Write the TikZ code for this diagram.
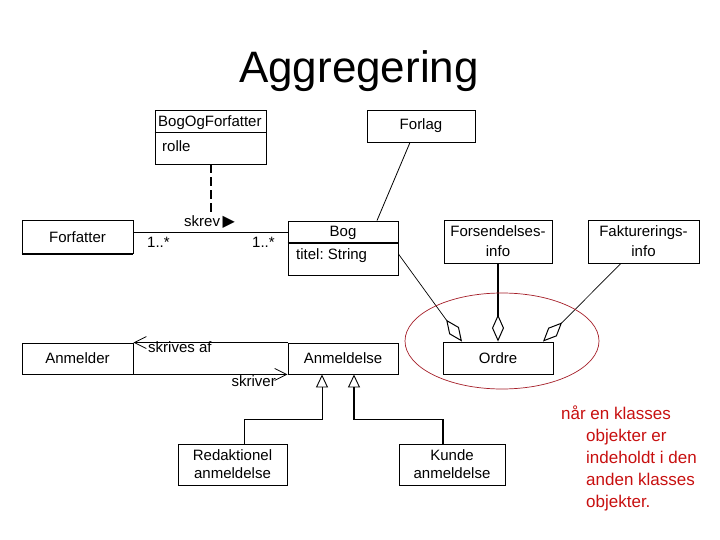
\documentclass[tikz,border=0pt]{standalone}
\usepackage{fontspec}
\setmainfont{Liberation Sans}
\newfontfamily\dejavu{DejaVu Sans}
\usetikzlibrary{arrows.meta}
\definecolor{notered}{RGB}{200,16,16}
\definecolor{ellred}{RGB}{165,30,40}
\tikzset{mybarb/.tip={Straight Barb[length=12pt, width=12pt, line width=0.8pt]}}
\frenchspacing
\begin{document}
\begin{tikzpicture}[x=1pt,y=-1pt,
  box/.style={draw=black, line width=0.9pt, inner sep=0pt, align=center,
    font=\fontsize{15}{20}\selectfont},
  txt/.style={inner sep=0pt, font=\fontsize{15}{20}\selectfont},
  lbl/.style={inner sep=0pt, font=\fontsize{15}{18}\selectfont},
  plain/.style={draw=black, line width=0.8pt},
  divider/.style={draw=black, line width=0.9pt},
  dashline/.style={draw=black, line width=2pt, dash pattern=on 9pt off 4pt},
  agg/.style={draw=black, line width=0.7pt,
    -{Diamond[open, length=27pt, width=12pt, line width=1pt]}},
  gen/.style={draw=black, line width=0.9pt,
    -{Triangle[open, length=13pt, width=12pt, line width=0.9pt]}},
  note/.style={inner sep=0pt, text=notered, align=left,
    font=\fontsize{17}{22}\selectfont},
  ring/.style={draw=ellred, line width=0.7pt}
]
\fill[white] (0,0) rectangle (720,540);
\useasboundingbox (0,0) rectangle (720,540);

% title
\node[inner sep=0pt, anchor=base, font=\fontsize{44}{50}\selectfont] (title) at (359,83) {Aggregering};

% BogOgForfatter
\node[box, minimum width=111pt, minimum height=54pt] (bof) at (210.5,137) {};
\draw[divider] ([yshift=5pt]bof.west) -- ([yshift=5pt]bof.east);
\node[txt, anchor=west] (boft) at (158,123) {BogOgForfatter};
\node[txt, anchor=west] (rolle) at (162,146) {rolle};

% Forlag
\node[box, minimum width=108pt, minimum height=32pt] (forlag) at (421,126) {Forlag};

% Forfatter
\node[box, minimum width=111pt, minimum height=33pt] (forfatter) at (77.5,237) {Forfatter};
\draw[black, line width=1.8pt] (forfatter.south west) -- (forfatter.south east);

% Bog
\node[box, minimum width=110pt, minimum height=54pt] (bog) at (343,248) {};
\draw[black, line width=1.8pt] ([yshift=5pt]bog.west) -- ([yshift=5pt]bog.east);
\node[txt] (bogt) at (343,233) {Bog};
\node[txt, anchor=west] (titel) at (296,256) {titel: String};

% Forsendelses / Fakturerings / Ordre
\node[box, minimum width=108pt, minimum height=43pt] (forsend) at (498,241.5) {Forsendelses-\\info};
\node[box, minimum width=111pt, minimum height=43pt] (faktur) at (643.5,241.5) {Fakturerings-\\info};
\node[box, minimum width=110pt, minimum height=32pt] (ordre) at (498,358) {Ordre};

% Anmelder / Anmeldelse
\node[box, minimum width=111pt, minimum height=31pt] (anmelder) at (77.5,358.5) {Anmelder};
\node[box, minimum width=110pt, minimum height=31pt] (anmeldelse) at (343,358.5) {Anmeldelse};

% subclasses
\node[box, minimum width=109pt, minimum height=41pt, font=\fontsize{15}{18}\selectfont] (redak) at (232.5,464.5) {Redaktionel\\anmeldelse};
\node[box, minimum width=106pt, minimum height=41pt, font=\fontsize{15}{18}\selectfont] (kunde) at (452,464.5) {Kunde\\anmeldelse};

% association class link
\coordinate (skrevpt) at (211,213);
\draw[dashline] ([xshift=0.5pt]bof.south) -- (skrevpt);
\node[lbl, anchor=west] (skrev) at (184,222) {skrev\,{\dejavu\fontsize{16}{16}\selectfont ▶}};

% Forfatter -- Bog
\coordinate (fbL) at ([yshift=5pt]forfatter.east);
\draw[plain] (fbL) -- (fbL -| bog.west);
\node[lbl, anchor=west] (m1) at (147,242) {1..*};
\node[lbl, anchor=west] (m2) at (252,242) {1..*};

% Forlag -- Bog
\draw[plain] ([xshift=-11pt]forlag.south) -- ([xshift=34pt]bog.north);

% aggregations into Ordre
\draw[agg] ([yshift=-6pt]bog.east) -- ([xshift=-36pt]ordre.north);
\draw[agg, line width=1.8pt] (forsend.south) -- (ordre.north);
\draw[agg] ([xshift=-22.5pt]faktur.south) -- ([xshift=45pt]ordre.north);

% highlight ellipse
\draw[ring] (502,341) ellipse [x radius=97pt, y radius=48pt];

% Anmelder -- Anmeldelse
\draw[plain, {mybarb}-] (anmelder.north east) -- (anmeldelse.north west);
\draw[plain, -{mybarb}] (anmelder.south east) -- (anmeldelse.south west);
\node[lbl, anchor=west] (skaf) at (148,347) {skrives af};
\node[lbl, anchor=east] (skr) at (276,381) {skriver};

% generalizations
\draw[gen] ([xshift=11.5pt]redak.north) -- ++(0,-24) -| ([xshift=-21pt]anmeldelse.south);
\draw[gen, line width=1.6pt] ([xshift=-9pt]kunde.north) -- ++(0,-24) -| ([xshift=11pt]anmeldelse.south);

% note
\node[note, anchor=north west] (notetext) at (561,405.5) {når en klasses\\\hspace*{25pt}objekter er\\\hspace*{25pt}indeholdt i den\\\hspace*{25pt}anden klasses\\\hspace*{25pt}objekter.};
\end{tikzpicture}
\end{document}
